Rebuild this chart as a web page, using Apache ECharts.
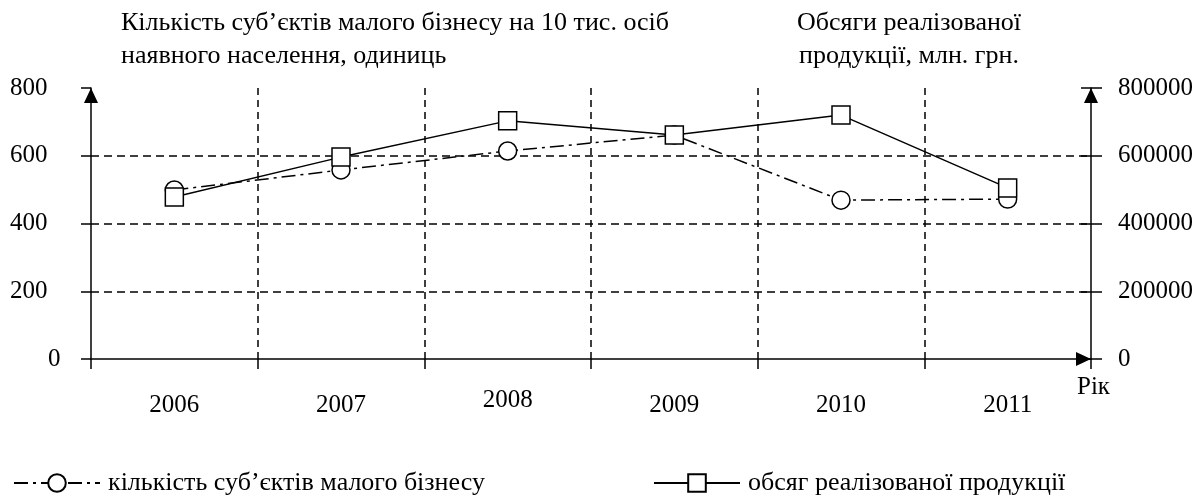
<!DOCTYPE html>
<html>
<head>
<meta charset="utf-8">
<script src="https://cdn.jsdelivr.net/npm/echarts@6/dist/echarts.min.js"></script>
<style>
  html, body { margin: 0; padding: 0; background: #fff; }
  .echarts { width: 1200px; height: 497px; }
</style>
</head>
<body>
<div class="echarts"></div>
<script>
// дані з рисунка
const years = ['2006', '2007', '2008', '2009', '2010', '2011'];
const firmsCount = [499, 558, 614, 661, 469, 472];
const salesVolume = [478000, 596000, 703000, 661000, 720000, 505000];
const leftTicks = { min: 0, max: 800, interval: 200 };
const rightTicks = { min: 0, max: 800000, interval: 200000 };

const serif = '"Liberation Serif", "Times New Roman", serif';
const nameFirms = 'кількість суб’єктів малого бізнесу';
const nameSales = 'обсяг реалізованої продукції';

window.addEventListener('load', function () {
    let myChart = echarts.init(document.querySelector('.echarts'));

    let axisLine = {
        show: true,
        symbol: ['none', 'triangle'],
        symbolSize: [14, 15],
        symbolOffset: [0, -7.5],
        lineStyle: { color: '#000', width: 1.5 }
    };
    let legendText = { fontFamily: serif, fontSize: 26, color: '#000', padding: [0, 0, 0, 3] };

    myChartOption = {
        animation: false,
        backgroundColor: '#fff',
        textStyle: { fontFamily: serif, color: '#000' },
        title: [{
            text: 'Кількість суб’єктів малого бізнесу на 10 тис. осіб\nнаявного населення, одиниць',
            left: 116,
            top: 2,
            textStyle: { fontFamily: serif, fontWeight: 'normal', fontSize: 26, lineHeight: 33, color: '#000' }
        }, {
            text: 'Обсяги реалізованої\nпродукції, млн. грн.',
            left: 904,
            top: 2,
            textAlign: 'center',
            textStyle: { fontFamily: serif, fontWeight: 'normal', fontSize: 26, lineHeight: 33, color: '#000', align: 'center' }
        }],
        legend: [{
            data: [nameFirms],
            left: 13,
            top: 470,
            padding: 0,
            itemWidth: 86,
            itemHeight: 22,
            textStyle: legendText
        }, {
            data: [nameSales],
            left: 653,
            top: 470,
            padding: 0,
            itemWidth: 86,
            itemHeight: 22,
            textStyle: legendText
        }],
        grid: {
            left: 91,
            right: 109,
            top: 88,
            bottom: 138
        },
        graphic: [{
            type: 'text',
            left: 1077,
            top: 375,
            style: { text: 'Рік', font: '25px ' + serif, fill: '#000' }
        }],
        xAxis: {
            type: 'category',
            data: years.map(function (y) {
                // 2008 в оригіналі трохи вище
                return y === '2008' ? { value: y, textStyle: { lineHeight: 15 } } : y;
            }),
            boundaryGap: true,
            axisLine: axisLine,
            axisTick: { show: true, interval: 0, length: 10, lineStyle: { color: '#000', width: 1.5 } },
            axisLabel: { margin: 34, fontSize: 25, fontFamily: serif, color: '#000', interval: 0 },
            splitLine: {
                show: true,
                interval: 0,
                showMinLine: false,
                showMaxLine: false,
                lineStyle: { color: '#000', width: 1.5, type: [7, 5] }
            }
        },
        yAxis: [{
            type: 'value',
            min: leftTicks.min,
            max: leftTicks.max,
            interval: leftTicks.interval,
            axisLine: axisLine,
            axisTick: { show: true, length: 10, lineStyle: { color: '#000', width: 1.5 } },
            axisLabel: {
                margin: 81,
                align: 'left',
                fontSize: 25,
                fontFamily: serif,
                color: '#000',
                formatter: function (v) { return v === 0 ? '{z|0}' : String(v); },
                rich: { z: { fontSize: 25, fontFamily: serif, color: '#000', padding: [0, 0, 0, 38] } }
            },
            splitLine: {
                show: true,
                showMinLine: false,
                showMaxLine: false,
                lineStyle: { color: '#000', width: 1.5, type: [8, 5] }
            }
        }, {
            type: 'value',
            position: 'right',
            min: rightTicks.min,
            max: rightTicks.max,
            interval: rightTicks.interval,
            axisLine: axisLine,
            axisTick: { show: true, length: 11, lineStyle: { color: '#000', width: 1.5 } },
            axisLabel: {
                margin: 27,
                fontSize: 25,
                fontFamily: serif,
                color: '#000',
                formatter: function (v) { return String(v); }
            },
            splitLine: { show: false }
        }, {
            // ліва половина рисок правої осі
            type: 'value',
            position: 'right',
            min: rightTicks.min,
            max: rightTicks.max,
            interval: rightTicks.interval,
            axisLine: { show: false },
            axisTick: { show: true, inside: true, length: 10, lineStyle: { color: '#000', width: 1.5 } },
            axisLabel: { show: false },
            splitLine: { show: false }
        }],
        series: [{
            name: nameFirms,
            type: 'line',
            yAxisIndex: 0,
            data: firmsCount,
            symbol: 'circle',
            symbolSize: 18,
            color: '#000',
            lineStyle: { color: '#000', width: 1.5, type: [14, 5, 3, 5] },
            itemStyle: { color: '#fff', borderColor: '#000', borderWidth: 1.5 },
            z: 3
        }, {
            name: nameSales,
            type: 'line',
            yAxisIndex: 1,
            data: salesVolume,
            symbol: 'rect',
            symbolSize: 18,
            color: '#000',
            lineStyle: { color: '#000', width: 1.5, type: 'solid' },
            itemStyle: { color: '#fff', borderColor: '#000', borderWidth: 1.5 },
            z: 4
        }]
    };
    myChart.setOption(myChartOption);
});
</script>
</body>
</html>
